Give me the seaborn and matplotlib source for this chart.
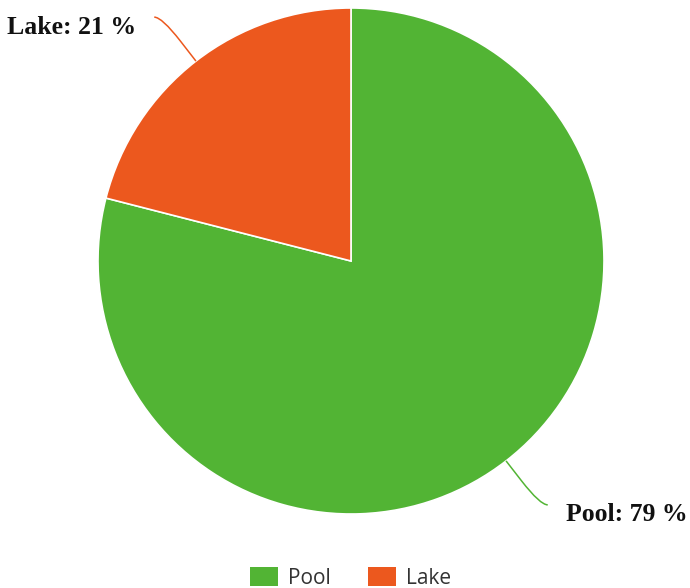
import numpy as np
import matplotlib
matplotlib.use("Agg")
import matplotlib.pyplot as plt
from matplotlib.path import Path
from matplotlib.patches import PathPatch, Patch
import seaborn as sns

categories = ["Pool", "Lake"]
values = [79, 21]
label_texts = ["Pool: 79 %", "Lake: 21 %"]
colors = ["#52B434", "#EC581E"]

sns.set_theme(style="white")
plt.rcParams['font.family'] = ['DejaVu Sans']

W, H = 690, 588
fig = plt.figure(figsize=(W / 100, H / 100), dpi=100)
cx, cy, R = 351, 261, 253
ax = fig.add_axes([(cx - R) / W, (H - cy - R) / H, 2 * R / W, 2 * R / H])
ax.set_xlim(-1, 1)
ax.set_ylim(-1, 1)
ax.axis("off")

wedges, _ = ax.pie(values, colors=colors, startangle=90, counterclock=False,
                   radius=1.0, center=(0, 0), frame=False,
                   wedgeprops=dict(edgecolor="white", linewidth=1.2))
ax.set_xlim(-1, 1)
ax.set_ylim(-1, 1)

for w, txt, col in zip(wedges, label_texts, colors):
    ang = np.deg2rad((w.theta1 + w.theta2) / 2)
    c, s = np.cos(ang), np.sin(ang)
    side = 1 if c >= 0 else -1
    P0 = (c * 1.0, s * 1.0)
    S = (c * 1.10, s * 1.10)
    C = (c * 1.22, s * 1.22)
    E = (C[0] + side * 0.03, C[1])
    path = Path([P0, S, C, E], [Path.MOVETO, Path.LINETO, Path.CURVE3, Path.CURVE3])
    ax.add_patch(PathPatch(path, facecolor="none", edgecolor=col, lw=1.1,
                           clip_on=False))
    ax.annotate(txt, xy=E, xytext=(side * 18, -10), textcoords="offset pixels",
                ha="left" if side > 0 else "right", va="center",
                fontsize=18.5, fontweight="bold", color="#111111",
                family=["Liberation Serif", "DejaVu Serif"], annotation_clip=False)

handles = [Patch(facecolor=col, edgecolor="none", label=cat)
           for cat, col in zip(categories, colors)]
leg = fig.legend(handles=handles, loc="center",
                 bbox_to_anchor=(350.5 / W, 1 - 578 / H), ncol=2, frameon=False,
                 prop=dict(family=["Open Sans", "DejaVu Sans"], size=15),
                 handlelength=1.35, handleheight=1.0, handletextpad=0.45,
                 columnspacing=1.8, borderpad=0, borderaxespad=0)
for t in leg.get_texts():
    t.set_color("#333333")

fig.savefig("out.png", dpi=100, facecolor="white")
